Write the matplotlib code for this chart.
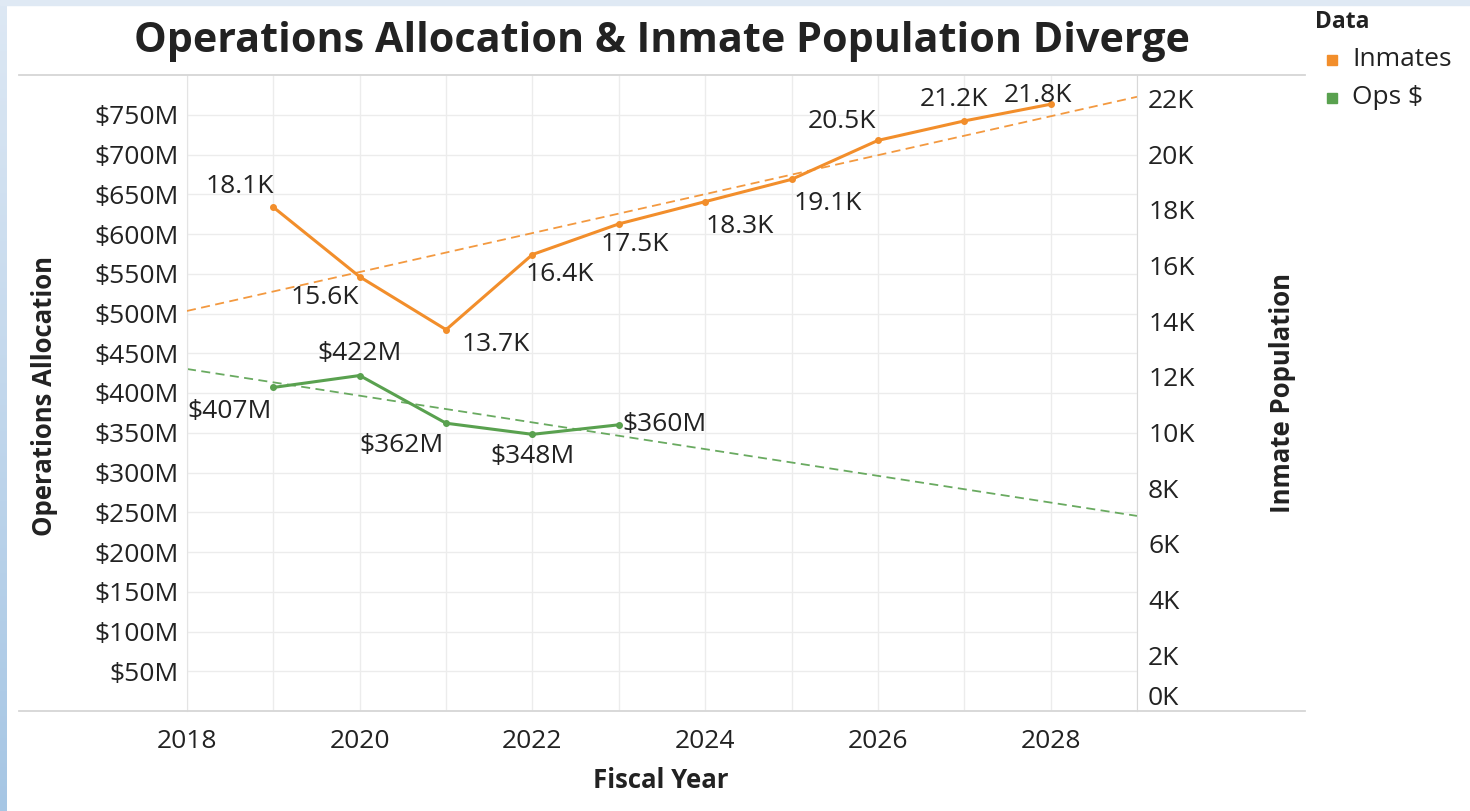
import numpy as np
import matplotlib
matplotlib.use("Agg")
import matplotlib.pyplot as plt
from matplotlib.lines import Line2D
from matplotlib.patches import Rectangle

plt.rcParams['font.family'] = ['Open Sans', 'DejaVu Sans']

# data
ops_years = [2019, 2020, 2021, 2022, 2023]
ops_millions = [407, 422, 362, 348, 360]
inmate_years = [2019, 2020, 2021, 2022, 2023, 2024, 2025, 2026, 2027, 2028]
inmates_k = [18.1, 15.6, 13.7, 16.4, 17.5, 18.3, 19.1, 20.5, 21.2, 21.8]

left_ticks = list(range(50, 800, 50))
right_ticks = list(range(0, 23, 2))
year_ticks = list(range(2018, 2029, 2))

# label nudges (pixels) around each point
ops_offsets = [(-44, -24), (0, 22), (-45, -22), (0, -22), (46, 0)]
inmate_offsets = [(-34, 21), (-35, -21), (50, -15), (27, -20), (16, -21),
                  (35, -25), (36, -24), (-36, 19), (-10, 21), (-13, 9)]

ORANGE = '#F28E2B'
GREEN = '#59A14F'
TXT = '#222222'
GRID = '#ececec'
FS = 19

W, H = 1470, 811
fig = plt.figure(figsize=(W / 100, H / 100), dpi=100)


def fx(px):
    return px / W


def fy(py):
    return 1 - py / H


# page background: pale band on top, blue gradient strip on the left
bg = fig.add_axes([0, 0, 1, 1], zorder=-10)
bg.axis('off')
bg.add_patch(Rectangle((0, 0), W, 5, color='#dfe9f4'))
grad = np.linspace(0, 1, 256).reshape(-1, 1)
cmap = matplotlib.colors.LinearSegmentedColormap.from_list('strip', ['#dde8f4', '#a6c6e4'])
bg.imshow(grad, cmap=cmap, extent=[0, 7, H, 0], aspect='auto')
bg.set_xlim(0, W)
bg.set_ylim(H, 0)

ax = fig.add_axes([fx(187), fy(711), fx(1137) - fx(187), fy(75) - fy(711)])
ax2 = ax.twinx()

ax.set_xlim(2018, 2029)
ax.set_ylim(0, 800)
ax2.set_ylim(0, 22.85)

ax.set_xticks(year_ticks)
ax.set_xticklabels([str(y) for y in year_ticks])
ax.set_xticks(range(2018, 2030), minor=True)
ax.set_yticks(left_ticks)
ax.set_yticklabels([f'${v}M' for v in left_ticks])
ax2.set_yticks(right_ticks)
ax2.set_yticklabels([f'{v}K' for v in right_ticks])

ax.grid(axis='x', which='both', color=GRID, lw=1)
ax.grid(axis='y', which='major', color=GRID, lw=1)
ax.set_axisbelow(True)
ax.tick_params(axis='x', which='both', length=0, pad=13, labelsize=FS, labelcolor=TXT)
ax.tick_params(axis='y', length=0, pad=6, labelsize=FS, labelcolor=TXT)
ax2.tick_params(axis='y', length=0, pad=8, labelsize=FS, labelcolor=TXT)
ax2.get_yticklabels()[0].set_va('bottom')

for a in (ax, ax2):
    for s in a.spines.values():
        s.set_visible(False)
ax.spines['left'].set_visible(True)
ax.spines['left'].set_color('#e4e4e4')
ax2.spines['right'].set_visible(True)
ax2.spines['right'].set_color('#d8d8d8')

# top and bottom rules
for py in (75, 711):
    fig.add_artist(Line2D([fx(19), fx(1305)], [fy(py), fy(py)],
                          transform=fig.transFigure, color='#d6d6d6', lw=1.3))

# trend lines
span = np.array([2018, 2029])
k_ops = np.polyfit(ops_years, ops_millions, 1)
k_inm = np.polyfit(inmate_years, inmates_k, 1)
ax.plot(span, np.polyval(k_ops, span), color=GREEN, lw=1.3, ls=(0, (5, 3)), alpha=0.9)
ax2.plot(span, np.polyval(k_inm, span), color=ORANGE, lw=1.3, ls=(0, (5, 3)), alpha=0.9)

# series
ax.plot(ops_years, ops_millions, color=GREEN, lw=2.2, marker='o', ms=4)
ax2.plot(inmate_years, inmates_k, color=ORANGE, lw=2.2, marker='o', ms=4)

for x, v, (dx, dy) in zip(ops_years, ops_millions, ops_offsets):
    ax.annotate(f'${v}M', (x, v), xytext=(dx, dy), textcoords='offset pixels',
                ha='center', va='center', fontsize=FS, color=TXT)
for x, v, (dx, dy) in zip(inmate_years, inmates_k, inmate_offsets):
    ax2.annotate(f'{v}K', (x, v), xytext=(dx, dy), textcoords='offset pixels',
                 ha='center', va='center', fontsize=FS, color=TXT)

# titles
fig.text(fx(662), fy(42), 'Operations Allocation & Inmate Population Diverge',
         ha='center', va='center', fontsize=29.7, fontweight='bold', color=TXT)
fig.text(fx(45), fy(396), 'Operations Allocation', rotation=90,
         ha='center', va='center', fontsize=18.5, fontweight='bold', color=TXT)
fig.text(fx(1282), fy(393), 'Inmate Population', rotation=90,
         ha='center', va='center', fontsize=18.5, fontweight='bold', color=TXT)
fig.text(fx(661), fy(780), 'Fiscal Year',
         ha='center', va='center', fontsize=18.5, fontweight='bold', color=TXT)

# legend
fig.text(fx(1315), fy(22), 'Data', ha='left', va='center',
         fontsize=16.5, fontweight='bold', color=TXT)
for py, label, col in ((60, 'Inmates', ORANGE), (98, 'Ops $', GREEN)):
    fig.add_artist(Rectangle((fx(1327), fy(py + 5)), fx(10), 10 / H,
                             transform=fig.transFigure, color=col))
    fig.text(fx(1352), fy(py), label, ha='left', va='center',
             fontsize=FS, color=TXT)

fig.savefig('out.png', dpi=100)
